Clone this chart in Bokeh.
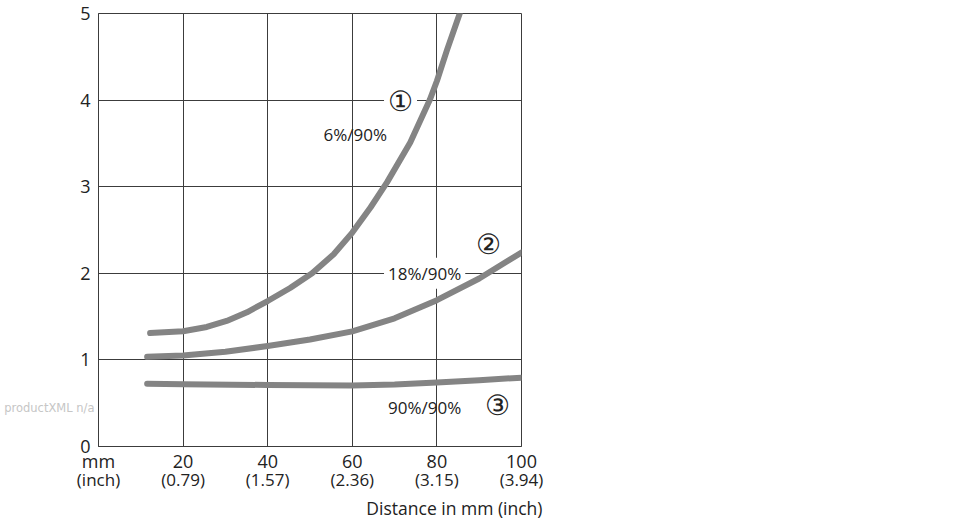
from bokeh.plotting import figure
from bokeh.models import Label, LinearAxis, FixedTicker, Range1d, Title
from bokeh.embed import file_html
from bokeh.resources import INLINE

# ---- data ----
x_ticks = [0, 20, 40, 60, 80, 100]
x_mm_labels = ["mm", "20", "40", "60", "80", "100"]
x_inch_labels = ["(inch)", "(0.79)", "(1.57)", "(2.36)", "(3.15)", "(3.94)"]
y_ticks = [0, 1, 2, 3, 4, 5]

c1_x = [12.2, 20, 25.6, 30.3, 35.1, 40, 45.3, 50.5, 55.6, 60, 64.3, 68.2, 73.7, 78.3, 80, 82.4, 85.4]
c1_y = [1.31, 1.33, 1.38, 1.45, 1.55, 1.68, 1.83, 2.0, 2.22, 2.47, 2.76, 3.05, 3.51, 4.0, 4.22, 4.58, 5.0]

c2_x = [11.5, 20, 30, 40, 50, 60, 70, 80, 90, 100]
c2_y = [1.035, 1.05, 1.095, 1.16, 1.235, 1.33, 1.48, 1.69, 1.94, 2.24]

c3_x = [11.5, 20, 40, 60, 70, 80, 90, 100]
c3_y = [0.725, 0.72, 0.71, 0.705, 0.715, 0.74, 0.765, 0.795]

curve_names = ["6%/90%", "18%/90%", "90%/90%"]
curve_marks = ["\u2460", "\u2461", "\u2462"]
axis_title = "Distance in mm (inch)"
watermark = "productXML n/a"

FONT = "Open Sans"
TXT = "#222222"
GRID = "#3c3c3c"
CURVE = "#848484"

p = figure(width=560, height=520, x_range=Range1d(0, 100), y_range=Range1d(0, 5),
           output_backend="svg", toolbar_location=None,
           min_border_left=98, min_border_right=39, min_border_top=13, min_border_bottom=74)
p.background_fill_color = "white"
p.border_fill_color = "white"
p.outline_line_color = GRID
p.outline_line_width = 1

# grids
p.xgrid.ticker = FixedTicker(ticks=x_ticks)
p.ygrid.ticker = FixedTicker(ticks=y_ticks)
p.grid.grid_line_color = GRID
p.grid.grid_line_width = 1

def plain(ax):
    ax.major_tick_out = 0
    ax.major_tick_in = 0
    ax.minor_tick_out = 0
    ax.minor_tick_in = 0

# y axis
ya = p.yaxis[0]
ya.ticker = FixedTicker(ticks=y_ticks)
plain(ya)
ya.axis_line_color = GRID
ya.major_label_standoff = 8
ya.major_label_text_font = FONT
ya.major_label_text_font_size = "18px"
ya.major_label_text_color = TXT

# watermark as an extra, line-less left axis
wa = LinearAxis(ticker=FixedTicker(ticks=[0.44]), major_label_overrides={0.44: watermark})
plain(wa)
wa.axis_line_color = None
wa.major_label_standoff = -17
wa.major_label_text_font = "DejaVu Sans"
wa.major_label_text_font_size = "11.5px"
wa.major_label_text_color = "#c6c6c6"
p.add_layout(wa, "left")

# x axis (mm)
xa = p.xaxis[0]
xa.ticker = FixedTicker(ticks=x_ticks)
xa.major_label_overrides = {t: s for t, s in zip(x_ticks, x_mm_labels)}
plain(xa)
xa.axis_line_color = GRID
xa.major_label_standoff = 2
xa.major_label_text_font = FONT
xa.major_label_text_font_size = "18px"
xa.major_label_text_color = TXT

# second x axis (inch)
xa2 = LinearAxis(ticker=FixedTicker(ticks=x_ticks),
                 major_label_overrides={t: s for t, s in zip(x_ticks, x_inch_labels)})
plain(xa2)
xa2.axis_line_color = None
xa2.major_label_standoff = -8
xa2.major_label_text_font = FONT
xa2.major_label_text_font_size = "17px"
xa2.major_label_text_color = TXT
p.add_layout(xa2, "below")

# axis title, right-aligned past the frame edge
p.add_layout(Title(text=axis_title, align="right", offset=-21, standoff=1,
                   text_font=FONT, text_font_size="17.5px", text_font_style="normal",
                   text_color=TXT), "below")

# curves
for xs, ys in [(c1_x, c1_y), (c2_x, c2_y), (c3_x, c3_y)]:
    p.line(xs, ys, line_color=CURVE, line_width=6, line_cap="round", line_join="round")

# curve labels
def lab(x, y, text, size, bg=None):
    l = Label(x=x, y=y, text=text, text_font=FONT, text_font_size=size,
              text_color=TXT, text_align="center", text_baseline="middle")
    if bg:
        l.background_fill_color = bg
        l.padding = 4
        l.level = "underlay"
    p.add_layout(l)

lab(71.4, 4.0, curve_marks[0], "28px", bg="white")
lab(60.7, 3.60, curve_names[0], "17px")
lab(92.2, 2.35, curve_marks[1], "28px")
lab(77.1, 2.0, curve_names[1], "17px", bg="white")
lab(77.1, 0.45, curve_names[2], "17px")
lab(94.3, 0.49, curve_marks[2], "28px")

open("out.html", "w").write(file_html(p, INLINE))
